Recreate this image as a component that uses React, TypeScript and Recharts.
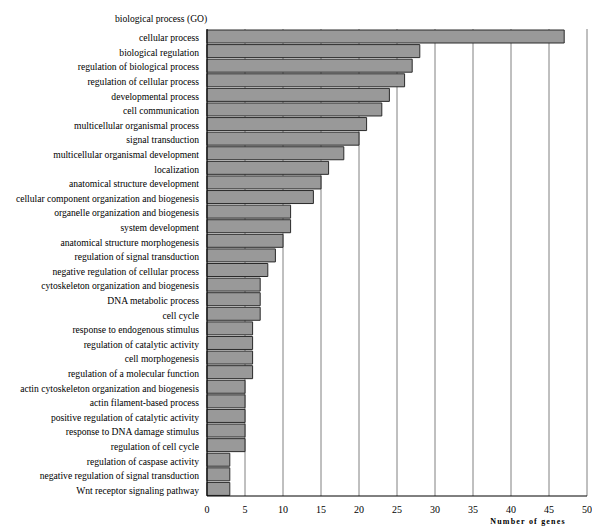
import { BarChart, Bar, XAxis, YAxis, CartesianGrid, Label } from "recharts";

const goTerms = [
	"cellular process",
	"biological regulation",
	"regulation of biological process",
	"regulation of cellular process",
	"developmental process",
	"cell communication",
	"multicellular organismal process",
	"signal transduction",
	"multicellular organismal development",
	"localization",
	"anatomical structure development",
	"cellular component organization and biogenesis",
	"organelle organization and biogenesis",
	"system development",
	"anatomical structure morphogenesis",
	"regulation of signal transduction",
	"negative regulation of cellular process",
	"cytoskeleton organization and biogenesis",
	"DNA metabolic process",
	"cell cycle",
	"response to endogenous stimulus",
	"regulation of catalytic activity",
	"cell morphogenesis",
	"regulation of a molecular function",
	"actin cytoskeleton organization and biogenesis",
	"actin filament-based process",
	"positive regulation of catalytic activity",
	"response to DNA damage stimulus",
	"regulation of cell cycle",
	"regulation of caspase activity",
	"negative regulation of signal transduction",
	"Wnt receptor signaling pathway",
];

const geneCounts = [
	47, 28, 27, 26, 24, 23, 21, 20, 18, 16, 15, 14, 11, 11, 10, 9, 8, 7, 7, 7, 6, 6,
	6, 6, 5, 5, 5, 5, 5, 3, 3, 3,
];

const xTicks = [0, 5, 10, 15, 20, 25, 30, 35, 40, 45, 50];

const data = goTerms.map((term, i) => ({ term, count: geneCounts[i] }));

const font = "'Liberation Serif', 'Times New Roman', serif";

// plain <text> so long GO terms stay on one line
function TermTick({ x, y, payload }: any) {
	return (
		<text
			x={x}
			y={y}
			dy={5}
			textAnchor="end"
			fontSize={9.6}
			fontFamily={font}
			fill="#000"
		>
			{payload.value}
		</text>
	);
}

export default function App() {
	return (
		<div style={{ position: "relative", width: 592, height: 518, fontFamily: font }}>
			<div
				style={{
					position: "absolute",
					left: 107,
					top: 5,
					fontSize: 9.6,
					color: "#000",
					whiteSpace: "nowrap",
				}}
			>
				biological process (GO)
			</div>
			<BarChart
				width={592}
				height={518}
				data={data}
				layout="vertical"
				barCategoryGap={1}
				margin={{ top: 21, right: 13, left: 0, bottom: 0 }}
			>
				<CartesianGrid horizontal={false} stroke="#808080" />
				<XAxis
					type="number"
					dataKey="count"
					domain={[0, 50]}
					ticks={xTicks}
					height={30}
					tickLine={false}
					tickMargin={4}
					axisLine={{ stroke: "#000" }}
					tick={{ fill: "#000", fontSize: 10, fontFamily: font }}
				>
					<Label
						value="Number of genes"
						position="insideBottom"
						dx={131}
						offset={2}
						style={{
							fontSize: 8,
							fontWeight: "bold",
							letterSpacing: 1.2,
							fill: "#000",
							fontFamily: font,
						}}
					/>
				</XAxis>
				<XAxis
					xAxisId="top"
					orientation="top"
					type="number"
					domain={[0, 50]}
					height={0}
					tick={false}
					tickLine={false}
					axisLine={{ stroke: "#909090" }}
				/>
				<YAxis
					type="category"
					dataKey="term"
					width={199}
					interval={0}
					tickLine={false}
					axisLine={{ stroke: "#000" }}
					tick={<TermTick />}
				/>
				<Bar
					dataKey="count"
					fill="#999999"
					stroke="#2a2a2a"
					strokeWidth={1}
					isAnimationActive={false}
				/>
			</BarChart>
		</div>
	);
}
